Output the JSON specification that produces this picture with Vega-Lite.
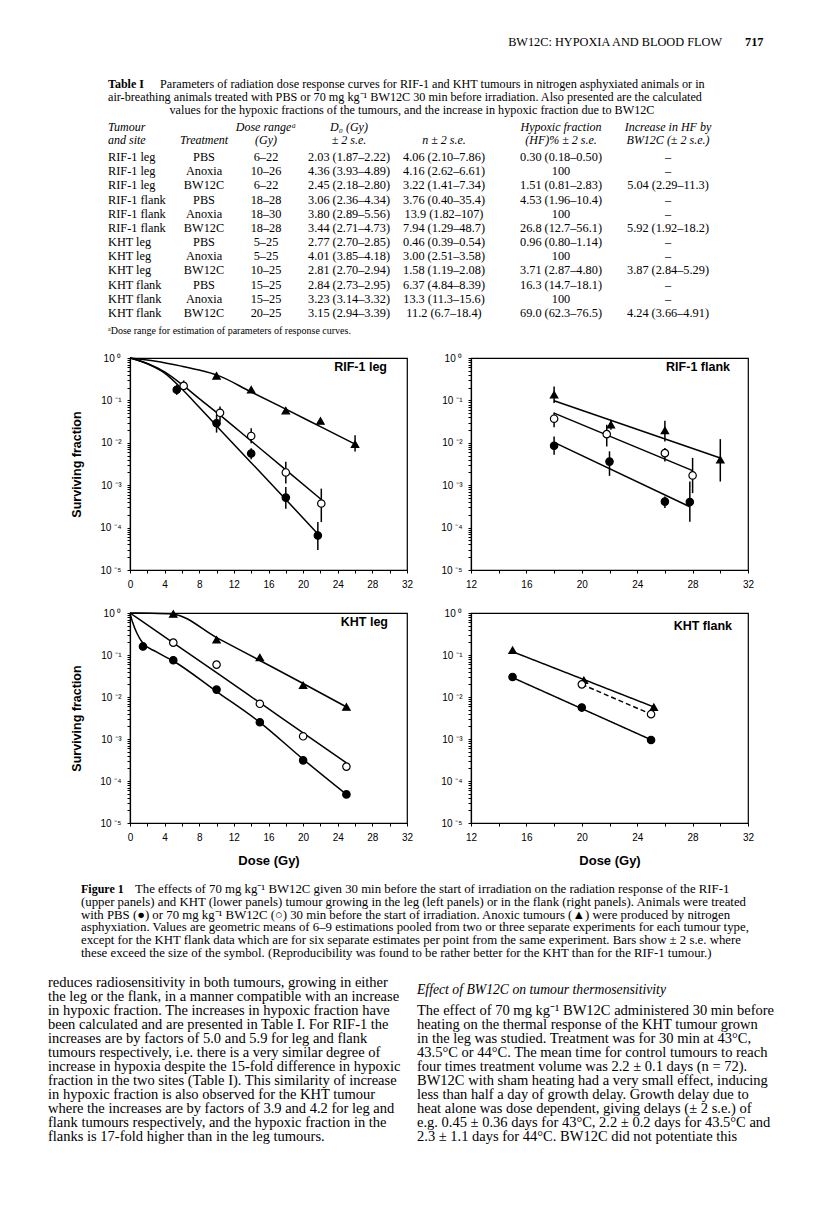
{
  "$schema": "https://vega.github.io/schema/vega-lite/v6.json",
  "padding": 0,
  "background": "white",
  "columns": 3,
  "spacing": {"row": 43, "column": 64},
  "bounds": "flush",
  "config": {
    "view": {"stroke": null},
    "axis": {"grid": false, "domainColor": "black", "domainWidth": 1.2, "tickColor": "black", "tickWidth": 1, "tickSize": 3, "labelColor": "black", "labelFont": "Liberation Sans", "labelFontSize": 10, "labelFlush": false, "labelOverlap": false, "labelBound": false, "titleColor": "black", "titleFont": "Liberation Sans", "titleFontWeight": "bold", "titleFontSize": 12.5},
    "axisX": {"labelPadding": 6, "titlePadding": 12},
    "axisY": {"labelPadding": 6, "titlePadding": 16},
    "title": {"anchor": "end", "frame": "group", "orient": "top", "offset": 0, "baseline": "middle", "dy": 24, "font": "Liberation Sans", "fontSize": 12.5, "fontWeight": "bold", "color": "black"}
  },
  "datasets": {
    "points": [
      {"panel": "RIF-1 leg", "group": "Anoxia", "dose": 10, "sf": 0.38},
      {"panel": "RIF-1 leg", "group": "Anoxia", "dose": 14, "sf": 0.178},
      {"panel": "RIF-1 leg", "group": "Anoxia", "dose": 18, "sf": 0.0575},
      {"panel": "RIF-1 leg", "group": "Anoxia", "dose": 22, "sf": 0.0327},
      {"panel": "RIF-1 leg", "group": "Anoxia", "dose": 26, "sf": 0.0093, "lo": 0.0062, "hi": 0.015},
      {"panel": "RIF-1 leg", "group": "PBS", "dose": 5.4, "sf": 0.178, "lo": 0.135, "hi": 0.234},
      {"panel": "RIF-1 leg", "group": "PBS", "dose": 10, "sf": 0.029, "lo": 0.0174, "hi": 0.0457},
      {"panel": "RIF-1 leg", "group": "PBS", "dose": 14, "sf": 0.0056, "lo": 0.0041, "hi": 0.0074},
      {"panel": "RIF-1 leg", "group": "PBS", "dose": 18, "sf": 0.00051, "lo": 0.00028, "hi": 0.00091},
      {"panel": "RIF-1 leg", "group": "PBS", "dose": 21.7, "sf": 0.000065, "lo": 0.0000296, "hi": 0.000135},
      {"panel": "RIF-1 leg", "group": "BW12C", "dose": 6.2, "sf": 0.22, "lo": 0.178, "hi": 0.295},
      {"panel": "RIF-1 leg", "group": "BW12C", "dose": 10.4, "sf": 0.051, "lo": 0.0316, "hi": 0.0716},
      {"panel": "RIF-1 leg", "group": "BW12C", "dose": 14, "sf": 0.0145, "lo": 0.0097, "hi": 0.0219},
      {"panel": "RIF-1 leg", "group": "BW12C", "dose": 18, "sf": 0.002, "lo": 0.0011, "hi": 0.00355},
      {"panel": "RIF-1 leg", "group": "BW12C", "dose": 22.1, "sf": 0.00037, "lo": 0.000135, "hi": 0.00083},
      {"panel": "RIF-1 flank", "group": "Anoxia", "dose": 18, "sf": 0.136, "lo": 0.087, "hi": 0.214},
      {"panel": "RIF-1 flank", "group": "Anoxia", "dose": 22.1, "sf": 0.0266, "lo": 0.0203, "hi": 0.035},
      {"panel": "RIF-1 flank", "group": "Anoxia", "dose": 26, "sf": 0.0195, "lo": 0.0108, "hi": 0.033},
      {"panel": "RIF-1 flank", "group": "Anoxia", "dose": 30, "sf": 0.004, "lo": 0.00122, "hi": 0.0122},
      {"panel": "RIF-1 flank", "group": "BW12C", "dose": 18, "sf": 0.037, "lo": 0.0234, "hi": 0.052},
      {"panel": "RIF-1 flank", "group": "BW12C", "dose": 21.8, "sf": 0.016, "lo": 0.0082, "hi": 0.0266},
      {"panel": "RIF-1 flank", "group": "BW12C", "dose": 26, "sf": 0.0057, "lo": 0.0036, "hi": 0.0075},
      {"panel": "RIF-1 flank", "group": "BW12C", "dose": 28, "sf": 0.0017, "lo": 0.00065, "hi": 0.0044},
      {"panel": "RIF-1 flank", "group": "PBS", "dose": 18, "sf": 0.0085, "lo": 0.0052, "hi": 0.0141},
      {"panel": "RIF-1 flank", "group": "PBS", "dose": 22, "sf": 0.0036, "lo": 0.00166, "hi": 0.0063},
      {"panel": "RIF-1 flank", "group": "PBS", "dose": 26, "sf": 0.00041, "lo": 0.00029, "hi": 0.00054},
      {"panel": "RIF-1 flank", "group": "PBS", "dose": 27.8, "sf": 0.0004, "lo": 0.000138, "hi": 0.00122},
      {"panel": "KHT leg", "group": "Anoxia", "dose": 5, "sf": 0.95},
      {"panel": "KHT leg", "group": "Anoxia", "dose": 10, "sf": 0.23},
      {"panel": "KHT leg", "group": "Anoxia", "dose": 15, "sf": 0.087},
      {"panel": "KHT leg", "group": "Anoxia", "dose": 20, "sf": 0.019},
      {"panel": "KHT leg", "group": "Anoxia", "dose": 25, "sf": 0.0058},
      {"panel": "KHT leg", "group": "BW12C", "dose": 5, "sf": 0.197},
      {"panel": "KHT leg", "group": "BW12C", "dose": 10, "sf": 0.059},
      {"panel": "KHT leg", "group": "BW12C", "dose": 15, "sf": 0.0069},
      {"panel": "KHT leg", "group": "BW12C", "dose": 20, "sf": 0.00116},
      {"panel": "KHT leg", "group": "BW12C", "dose": 25, "sf": 0.00022},
      {"panel": "KHT leg", "group": "PBS", "dose": 1.5, "sf": 0.16},
      {"panel": "KHT leg", "group": "PBS", "dose": 5, "sf": 0.075},
      {"panel": "KHT leg", "group": "PBS", "dose": 10, "sf": 0.015},
      {"panel": "KHT leg", "group": "PBS", "dose": 15, "sf": 0.0025},
      {"panel": "KHT leg", "group": "PBS", "dose": 20, "sf": 0.00031},
      {"panel": "KHT leg", "group": "PBS", "dose": 25, "sf": 0.000048},
      {"panel": "KHT flank", "group": "Anoxia", "dose": 15, "sf": 0.13},
      {"panel": "KHT flank", "group": "Anoxia", "dose": 20.15, "sf": 0.025},
      {"panel": "KHT flank", "group": "Anoxia", "dose": 25.2, "sf": 0.0057},
      {"panel": "KHT flank", "group": "BW12C", "dose": 20, "sf": 0.02},
      {"panel": "KHT flank", "group": "BW12C", "dose": 25, "sf": 0.0039},
      {"panel": "KHT flank", "group": "PBS", "dose": 15, "sf": 0.03},
      {"panel": "KHT flank", "group": "PBS", "dose": 20, "sf": 0.0056},
      {"panel": "KHT flank", "group": "PBS", "dose": 25, "sf": 0.00095}
    ],
    "curves": [
      {"panel": "RIF-1 leg", "group": "Anoxia", "dose": 0, "sf": 1},
      {"panel": "RIF-1 leg", "group": "Anoxia", "dose": 3, "sf": 0.84},
      {"panel": "RIF-1 leg", "group": "Anoxia", "dose": 6, "sf": 0.64},
      {"panel": "RIF-1 leg", "group": "Anoxia", "dose": 8, "sf": 0.52},
      {"panel": "RIF-1 leg", "group": "Anoxia", "dose": 10, "sf": 0.4},
      {"panel": "RIF-1 leg", "group": "Anoxia", "dose": 14, "sf": 0.158},
      {"panel": "RIF-1 leg", "group": "Anoxia", "dose": 18, "sf": 0.062},
      {"panel": "RIF-1 leg", "group": "Anoxia", "dose": 22, "sf": 0.024},
      {"panel": "RIF-1 leg", "group": "Anoxia", "dose": 26, "sf": 0.0093},
      {"panel": "RIF-1 leg", "group": "PBS", "dose": 0, "sf": 1},
      {"panel": "RIF-1 leg", "group": "PBS", "dose": 2, "sf": 0.73},
      {"panel": "RIF-1 leg", "group": "PBS", "dose": 4, "sf": 0.44},
      {"panel": "RIF-1 leg", "group": "PBS", "dose": 6, "sf": 0.186},
      {"panel": "RIF-1 leg", "group": "PBS", "dose": 8, "sf": 0.069},
      {"panel": "RIF-1 leg", "group": "PBS", "dose": 10, "sf": 0.025},
      {"panel": "RIF-1 leg", "group": "PBS", "dose": 14, "sf": 0.0034},
      {"panel": "RIF-1 leg", "group": "PBS", "dose": 18, "sf": 0.00046},
      {"panel": "RIF-1 leg", "group": "PBS", "dose": 21.7, "sf": 0.000071},
      {"panel": "RIF-1 leg", "group": "BW12C", "dose": 0, "sf": 1},
      {"panel": "RIF-1 leg", "group": "BW12C", "dose": 2, "sf": 0.74},
      {"panel": "RIF-1 leg", "group": "BW12C", "dose": 4, "sf": 0.47},
      {"panel": "RIF-1 leg", "group": "BW12C", "dose": 6.2, "sf": 0.22},
      {"panel": "RIF-1 leg", "group": "BW12C", "dose": 8, "sf": 0.11},
      {"panel": "RIF-1 leg", "group": "BW12C", "dose": 10.4, "sf": 0.045},
      {"panel": "RIF-1 leg", "group": "BW12C", "dose": 14, "sf": 0.011},
      {"panel": "RIF-1 leg", "group": "BW12C", "dose": 18, "sf": 0.0023},
      {"panel": "RIF-1 leg", "group": "BW12C", "dose": 22.1, "sf": 0.00046},
      {"panel": "RIF-1 flank", "group": "Anoxia", "dose": 18, "sf": 0.098},
      {"panel": "RIF-1 flank", "group": "Anoxia", "dose": 30, "sf": 0.0044},
      {"panel": "RIF-1 flank", "group": "BW12C", "dose": 18, "sf": 0.05},
      {"panel": "RIF-1 flank", "group": "BW12C", "dose": 28, "sf": 0.0022},
      {"panel": "RIF-1 flank", "group": "PBS", "dose": 18, "sf": 0.0102},
      {"panel": "RIF-1 flank", "group": "PBS", "dose": 27.8, "sf": 0.00031},
      {"panel": "KHT leg", "group": "Anoxia", "dose": 0, "sf": 1},
      {"panel": "KHT leg", "group": "Anoxia", "dose": 2.5, "sf": 0.99},
      {"panel": "KHT leg", "group": "Anoxia", "dose": 5, "sf": 0.94},
      {"panel": "KHT leg", "group": "Anoxia", "dose": 10, "sf": 0.26},
      {"panel": "KHT leg", "group": "Anoxia", "dose": 15, "sf": 0.074},
      {"panel": "KHT leg", "group": "Anoxia", "dose": 20, "sf": 0.021},
      {"panel": "KHT leg", "group": "Anoxia", "dose": 25, "sf": 0.0058},
      {"panel": "KHT leg", "group": "BW12C", "dose": 0, "sf": 1},
      {"panel": "KHT leg", "group": "BW12C", "dose": 5, "sf": 0.195},
      {"panel": "KHT leg", "group": "BW12C", "dose": 10, "sf": 0.038},
      {"panel": "KHT leg", "group": "BW12C", "dose": 15, "sf": 0.0073},
      {"panel": "KHT leg", "group": "BW12C", "dose": 20, "sf": 0.0014},
      {"panel": "KHT leg", "group": "BW12C", "dose": 25, "sf": 0.00027},
      {"panel": "KHT leg", "group": "PBS", "dose": 0, "sf": 1},
      {"panel": "KHT leg", "group": "PBS", "dose": 0.3, "sf": 0.6},
      {"panel": "KHT leg", "group": "PBS", "dose": 0.8, "sf": 0.33},
      {"panel": "KHT leg", "group": "PBS", "dose": 1.5, "sf": 0.19},
      {"panel": "KHT leg", "group": "PBS", "dose": 3, "sf": 0.12},
      {"panel": "KHT leg", "group": "PBS", "dose": 5, "sf": 0.072},
      {"panel": "KHT leg", "group": "PBS", "dose": 10, "sf": 0.0135},
      {"panel": "KHT leg", "group": "PBS", "dose": 15, "sf": 0.0025},
      {"panel": "KHT leg", "group": "PBS", "dose": 20, "sf": 0.00033},
      {"panel": "KHT leg", "group": "PBS", "dose": 25, "sf": 0.000048},
      {"panel": "KHT flank", "group": "Anoxia", "dose": 15, "sf": 0.12},
      {"panel": "KHT flank", "group": "Anoxia", "dose": 25.2, "sf": 0.0058},
      {"panel": "KHT flank", "group": "BW12C", "dose": 20, "sf": 0.02},
      {"panel": "KHT flank", "group": "BW12C", "dose": 25, "sf": 0.0039},
      {"panel": "KHT flank", "group": "PBS", "dose": 15, "sf": 0.029},
      {"panel": "KHT flank", "group": "PBS", "dose": 25, "sf": 0.00096}
    ],
    "tableText": [
      {"k": "runhead", "line": 0, "col": 7, "text": "BW12C: HYPOXIA AND BLOOD FLOW"},
      {"k": "runhead", "line": 0, "col": 8, "text": "717"},
      {"k": "label", "line": 1, "col": 0, "text": "Table I"},
      {"k": "caption", "line": 1, "col": 10, "text": "Parameters of radiation dose response curves for RIF-1 and KHT tumours in nitrogen asphyxiated animals or in"},
      {"k": "caption", "line": 2, "col": 0, "text": "air-breathing animals treated with PBS or 70 mg kg⁻¹ BW12C 30 min before irradiation. Also presented are the calculated"},
      {"k": "captionc", "line": 3, "col": 9, "text": "values for the hypoxic fractions of the tumours, and the increase in hypoxic fraction due to BW12C"},
      {"k": "rule", "line": 4},
      {"k": "rule", "line": 7},
      {"k": "rule", "line": 20},
      {"k": "head", "line": 5, "col": 0, "text": "Tumour"},
      {"k": "head", "line": 5, "col": 2, "text": "Dose rangeᵃ"},
      {"k": "head", "line": 5, "col": 3, "text": "D₀ (Gy)"},
      {"k": "head", "line": 5, "col": 5, "text": "Hypoxic fraction"},
      {"k": "head", "line": 5, "col": 6, "text": "Increase in HF by"},
      {"k": "head", "line": 6, "col": 0, "text": "and site"},
      {"k": "head", "line": 6, "col": 1, "text": "Treatment"},
      {"k": "head", "line": 6, "col": 2, "text": "(Gy)"},
      {"k": "head", "line": 6, "col": 3, "text": "± 2 s.e."},
      {"k": "head", "line": 6, "col": 4, "text": "n ± 2 s.e."},
      {"k": "head", "line": 6, "col": 5, "text": "(HF)% ± 2 s.e."},
      {"k": "head", "line": 6, "col": 6, "text": "BW12C (± 2 s.e.)"},
      {"k": "cell", "line": 8, "col": 0, "text": "RIF-1 leg"}, {"k": "cell", "line": 8, "col": 1, "text": "PBS"}, {"k": "cell", "line": 8, "col": 2, "text": "6–22"}, {"k": "cell", "line": 8, "col": 3, "text": "2.03 (1.87–2.22)"}, {"k": "cell", "line": 8, "col": 4, "text": "4.06 (2.10–7.86)"}, {"k": "cell", "line": 8, "col": 5, "text": "0.30 (0.18–0.50)"}, {"k": "cell", "line": 8, "col": 6, "text": "–"},
      {"k": "cell", "line": 9, "col": 0, "text": "RIF-1 leg"}, {"k": "cell", "line": 9, "col": 1, "text": "Anoxia"}, {"k": "cell", "line": 9, "col": 2, "text": "10–26"}, {"k": "cell", "line": 9, "col": 3, "text": "4.36 (3.93–4.89)"}, {"k": "cell", "line": 9, "col": 4, "text": "4.16 (2.62–6.61)"}, {"k": "cell", "line": 9, "col": 5, "text": "100"}, {"k": "cell", "line": 9, "col": 6, "text": "–"},
      {"k": "cell", "line": 10, "col": 0, "text": "RIF-1 leg"}, {"k": "cell", "line": 10, "col": 1, "text": "BW12C"}, {"k": "cell", "line": 10, "col": 2, "text": "6–22"}, {"k": "cell", "line": 10, "col": 3, "text": "2.45 (2.18–2.80)"}, {"k": "cell", "line": 10, "col": 4, "text": "3.22 (1.41–7.34)"}, {"k": "cell", "line": 10, "col": 5, "text": "1.51 (0.81–2.83)"}, {"k": "cell", "line": 10, "col": 6, "text": "5.04 (2.29–11.3)"},
      {"k": "cell", "line": 11, "col": 0, "text": "RIF-1 flank"}, {"k": "cell", "line": 11, "col": 1, "text": "PBS"}, {"k": "cell", "line": 11, "col": 2, "text": "18–28"}, {"k": "cell", "line": 11, "col": 3, "text": "3.06 (2.36–4.34)"}, {"k": "cell", "line": 11, "col": 4, "text": "3.76 (0.40–35.4)"}, {"k": "cell", "line": 11, "col": 5, "text": "4.53 (1.96–10.4)"}, {"k": "cell", "line": 11, "col": 6, "text": "–"},
      {"k": "cell", "line": 12, "col": 0, "text": "RIF-1 flank"}, {"k": "cell", "line": 12, "col": 1, "text": "Anoxia"}, {"k": "cell", "line": 12, "col": 2, "text": "18–30"}, {"k": "cell", "line": 12, "col": 3, "text": "3.80 (2.89–5.56)"}, {"k": "cell", "line": 12, "col": 4, "text": "13.9 (1.82–107)"}, {"k": "cell", "line": 12, "col": 5, "text": "100"}, {"k": "cell", "line": 12, "col": 6, "text": "–"},
      {"k": "cell", "line": 13, "col": 0, "text": "RIF-1 flank"}, {"k": "cell", "line": 13, "col": 1, "text": "BW12C"}, {"k": "cell", "line": 13, "col": 2, "text": "18–28"}, {"k": "cell", "line": 13, "col": 3, "text": "3.44 (2.71–4.73)"}, {"k": "cell", "line": 13, "col": 4, "text": "7.94 (1.29–48.7)"}, {"k": "cell", "line": 13, "col": 5, "text": "26.8 (12.7–56.1)"}, {"k": "cell", "line": 13, "col": 6, "text": "5.92 (1.92–18.2)"},
      {"k": "cell", "line": 14, "col": 0, "text": "KHT leg"}, {"k": "cell", "line": 14, "col": 1, "text": "PBS"}, {"k": "cell", "line": 14, "col": 2, "text": "5–25"}, {"k": "cell", "line": 14, "col": 3, "text": "2.77 (2.70–2.85)"}, {"k": "cell", "line": 14, "col": 4, "text": "0.46 (0.39–0.54)"}, {"k": "cell", "line": 14, "col": 5, "text": "0.96 (0.80–1.14)"}, {"k": "cell", "line": 14, "col": 6, "text": "–"},
      {"k": "cell", "line": 15, "col": 0, "text": "KHT leg"}, {"k": "cell", "line": 15, "col": 1, "text": "Anoxia"}, {"k": "cell", "line": 15, "col": 2, "text": "5–25"}, {"k": "cell", "line": 15, "col": 3, "text": "4.01 (3.85–4.18)"}, {"k": "cell", "line": 15, "col": 4, "text": "3.00 (2.51–3.58)"}, {"k": "cell", "line": 15, "col": 5, "text": "100"}, {"k": "cell", "line": 15, "col": 6, "text": "–"},
      {"k": "cell", "line": 16, "col": 0, "text": "KHT leg"}, {"k": "cell", "line": 16, "col": 1, "text": "BW12C"}, {"k": "cell", "line": 16, "col": 2, "text": "10–25"}, {"k": "cell", "line": 16, "col": 3, "text": "2.81 (2.70–2.94)"}, {"k": "cell", "line": 16, "col": 4, "text": "1.58 (1.19–2.08)"}, {"k": "cell", "line": 16, "col": 5, "text": "3.71 (2.87–4.80)"}, {"k": "cell", "line": 16, "col": 6, "text": "3.87 (2.84–5.29)"},
      {"k": "cell", "line": 17, "col": 0, "text": "KHT flank"}, {"k": "cell", "line": 17, "col": 1, "text": "PBS"}, {"k": "cell", "line": 17, "col": 2, "text": "15–25"}, {"k": "cell", "line": 17, "col": 3, "text": "2.84 (2.73–2.95)"}, {"k": "cell", "line": 17, "col": 4, "text": "6.37 (4.84–8.39)"}, {"k": "cell", "line": 17, "col": 5, "text": "16.3 (14.7–18.1)"}, {"k": "cell", "line": 17, "col": 6, "text": "–"},
      {"k": "cell", "line": 18, "col": 0, "text": "KHT flank"}, {"k": "cell", "line": 18, "col": 1, "text": "Anoxia"}, {"k": "cell", "line": 18, "col": 2, "text": "15–25"}, {"k": "cell", "line": 18, "col": 3, "text": "3.23 (3.14–3.32)"}, {"k": "cell", "line": 18, "col": 4, "text": "13.3 (11.3–15.6)"}, {"k": "cell", "line": 18, "col": 5, "text": "100"}, {"k": "cell", "line": 18, "col": 6, "text": "–"},
      {"k": "cell", "line": 19, "col": 0, "text": "KHT flank"}, {"k": "cell", "line": 19, "col": 1, "text": "BW12C"}, {"k": "cell", "line": 19, "col": 2, "text": "20–25"}, {"k": "cell", "line": 19, "col": 3, "text": "3.15 (2.94–3.39)"}, {"k": "cell", "line": 19, "col": 4, "text": "11.2  (6.7–18.4)"}, {"k": "cell", "line": 19, "col": 5, "text": "69.0 (62.3–76.5)"}, {"k": "cell", "line": 19, "col": 6, "text": "4.24 (3.66–4.91)"},
      {"k": "foot", "line": 21, "col": 0, "text": "ᵃDose range for estimation of parameters of response curves."}
    ],
    "pageText": [
      {"k": "figlabel", "line": 0, "col": 0, "text": "Figure 1"},
      {"k": "caption", "line": 0, "col": 1, "text": "The effects of 70 mg kg⁻¹ BW12C given 30 min before the start of irradiation on the radiation response of the RIF-1"},
      {"k": "caption", "line": 1, "col": 0, "text": "(upper panels) and KHT (lower panels) tumour growing in the leg (left panels) or in the flank (right panels). Animals were treated"},
      {"k": "caption", "line": 2, "col": 0, "text": "with PBS (●) or 70 mg kg⁻¹ BW12C (○) 30 min before the start of irradiation. Anoxic tumours (▲) were produced by nitrogen"},
      {"k": "caption", "line": 3, "col": 0, "text": "asphyxiation. Values are geometric means of 6–9 estimations pooled from two or three separate experiments for each tumour type,"},
      {"k": "caption", "line": 4, "col": 0, "text": "except for the KHT flank data which are for six separate estimates per point from the same experiment. Bars show ± 2 s.e. where"},
      {"k": "caption", "line": 5, "col": 0, "text": "these exceed the size of the symbol. (Reproducibility was found to be rather better for the KHT than for the RIF-1 tumour.)"},
      {"k": "body", "line": 10, "col": 2, "text": "reduces radiosensitivity in both tumours, growing in either"},
      {"k": "body", "line": 11, "col": 2, "text": "the leg or the flank, in a manner compatible with an increase"},
      {"k": "body", "line": 12, "col": 2, "text": "in hypoxic fraction. The increases in hypoxic fraction have"},
      {"k": "body", "line": 13, "col": 2, "text": "been calculated and are presented in Table I. For RIF-1 the"},
      {"k": "body", "line": 14, "col": 2, "text": "increases are by factors of 5.0 and 5.9 for leg and flank"},
      {"k": "body", "line": 15, "col": 2, "text": "tumours respectively, i.e. there is a very similar degree of"},
      {"k": "body", "line": 16, "col": 2, "text": "increase in hypoxia despite the 15-fold difference in hypoxic"},
      {"k": "body", "line": 17, "col": 2, "text": "fraction in the two sites (Table I). This similarity of increase"},
      {"k": "body", "line": 18, "col": 2, "text": "in hypoxic fraction is also observed for the KHT tumour"},
      {"k": "body", "line": 19, "col": 2, "text": "where the increases are by factors of 3.9 and 4.2 for leg and"},
      {"k": "body", "line": 20, "col": 2, "text": "flank tumours respectively, and the hypoxic fraction in the"},
      {"k": "body", "line": 21, "col": 2, "text": "flanks is 17-fold higher than in the leg tumours."},
      {"k": "heading", "line": 30, "col": 3, "text": "Effect of BW12C on tumour thermosensitivity"},
      {"k": "body", "line": 31, "col": 3, "text": "The effect of 70 mg kg⁻¹ BW12C administered 30 min before"},
      {"k": "body", "line": 32, "col": 3, "text": "heating on the thermal response of the KHT tumour grown"},
      {"k": "body", "line": 33, "col": 3, "text": "in the leg was studied. Treatment was for 30 min at 43°C,"},
      {"k": "body", "line": 34, "col": 3, "text": "43.5°C or 44°C. The mean time for control tumours to reach"},
      {"k": "body", "line": 35, "col": 3, "text": "four times treatment volume was 2.2 ± 0.1 days (n = 72)."},
      {"k": "body", "line": 36, "col": 3, "text": "BW12C with sham heating had a very small effect, inducing"},
      {"k": "body", "line": 37, "col": 3, "text": "less than half a day of growth delay. Growth delay due to"},
      {"k": "body", "line": 38, "col": 3, "text": "heat alone was dose dependent, giving delays (± 2 s.e.) of"},
      {"k": "body", "line": 39, "col": 3, "text": "e.g. 0.45 ± 0.36 days for 43°C, 2.2 ± 0.2 days for 43.5°C and"},
      {"k": "body", "line": 40, "col": 3, "text": "2.3 ± 1.1 days for 44°C. BW12C did not potentiate this"}
    ]
  },
  "concat": [
    {
      "width": 66,
      "height": 315,
      "data": {"name": "tableText"},
      "encoding": {
        "x": {"field": "col", "type": "quantitative", "axis": null, "scale": {"domain": [0, 1, 2, 3, 4, 5, 6, 7, 8, 9, 10, 11], "range": [108, 204, 266, 349, 444, 561, 668, 722, 745, 412, 160, 712], "zero": false, "nice": false}},
        "y": {"field": "line", "type": "quantitative", "axis": null, "scale": {"domain": [0, 1, 3, 4, 5, 6, 7, 8, 19, 20, 21], "range": [42, 84, 110, 118, 127, 140, 147, 157, 313, 320, 331], "zero": false, "nice": false}}
      },
      "layer": [
        {"transform": [{"filter": "datum.k === 'runhead' && datum.col === 7"}], "mark": {"type": "text", "align": "right", "baseline": "middle", "font": "Liberation Serif", "fontSize": 12.3, "color": "black"}, "encoding": {"text": {"field": "text"}}},
        {"transform": [{"filter": "datum.k === 'runhead' && datum.col === 8"}], "mark": {"type": "text", "align": "left", "baseline": "middle", "font": "Liberation Serif", "fontSize": 12.3, "fontWeight": "bold", "color": "black"}, "encoding": {"text": {"field": "text"}}},
        {"transform": [{"filter": "datum.k === 'label'"}], "mark": {"type": "text", "align": "left", "baseline": "middle", "font": "Liberation Serif", "fontSize": 12, "fontWeight": "bold", "color": "black"}, "encoding": {"text": {"field": "text"}}},
        {"transform": [{"filter": "datum.k === 'caption'"}], "mark": {"type": "text", "align": "left", "baseline": "middle", "font": "Liberation Serif", "fontSize": 12.2, "color": "black"}, "encoding": {"text": {"field": "text"}}},
        {"transform": [{"filter": "datum.k === 'captionc'"}], "mark": {"type": "text", "align": "center", "baseline": "middle", "font": "Liberation Serif", "fontSize": 12.2, "color": "black"}, "encoding": {"text": {"field": "text"}}},
        {"transform": [{"filter": "datum.k === 'head' && datum.col === 0"}], "mark": {"type": "text", "align": "left", "baseline": "middle", "font": "Liberation Serif", "fontSize": 12, "fontStyle": "italic", "color": "black"}, "encoding": {"text": {"field": "text"}}},
        {"transform": [{"filter": "datum.k === 'head' && datum.col > 0"}], "mark": {"type": "text", "align": "center", "baseline": "middle", "font": "Liberation Serif", "fontSize": 12, "fontStyle": "italic", "color": "black"}, "encoding": {"text": {"field": "text"}}},
        {"transform": [{"filter": "datum.k === 'cell' && datum.col === 0"}], "mark": {"type": "text", "align": "left", "baseline": "middle", "font": "Liberation Serif", "fontSize": 12.3, "color": "black"}, "encoding": {"text": {"field": "text"}}},
        {"transform": [{"filter": "datum.k === 'cell' && datum.col > 0"}], "mark": {"type": "text", "align": "center", "baseline": "middle", "font": "Liberation Serif", "fontSize": 12.3, "color": "black"}, "encoding": {"text": {"field": "text"}}},
        {"transform": [{"filter": "datum.k === 'foot'"}], "mark": {"type": "text", "align": "left", "baseline": "middle", "font": "Liberation Serif", "fontSize": 10, "color": "black"}, "encoding": {"text": {"field": "text"}}},
        {"transform": [{"filter": "datum.k === 'rule'"}], "mark": {"type": "rule", "color": "black", "strokeWidth": 1}, "encoding": {"x": {"datum": 0}, "x2": {"datum": 11}}}
      ]
    },
    {"width": 277, "height": 315, "data": {"values": []}, "mark": "point"},
    {"width": 277, "height": 315, "data": {"values": []}, "mark": "point"},
    {"width": 66, "height": 212, "data": {"values": []}, "mark": "point"},
    {
      "width": 277, "height": 212,
      "title": {"text": "RIF-1 leg", "dx": -20},
      "view": {"stroke": "black", "strokeWidth": 1.2},
      "encoding": {
        "x": {"field": "dose", "type": "quantitative", "scale": {"domain": [0, 32], "nice": false, "zero": false}, "axis": {"title": null, "values": [0, 2, 4, 6, 8, 10, 12, 14, 16, 18, 20, 22, 24, 26, 28, 30, 32], "labelExpr": "datum.value % 4 === 0 ? datum.label : ''"}},
        "y": {"field": "sf", "type": "quantitative", "scale": {"type": "log", "domain": [0.00001, 1], "nice": false}, "axis": {"title": "Surviving fraction", "values": [0.00001, 0.00002, 0.00003, 0.00004, 0.00005, 0.00006, 0.00007, 0.00008, 0.00009, 0.0001, 0.0002, 0.0003, 0.0004, 0.0005, 0.0006, 0.0007, 0.0008, 0.0009, 0.001, 0.002, 0.003, 0.004, 0.005, 0.006, 0.007, 0.008, 0.009, 0.01, 0.02, 0.03, 0.04, 0.05, 0.06, 0.07, 0.08, 0.09, 0.1, 0.2, 0.3, 0.4, 0.5, 0.6, 0.7, 0.8, 0.9, 1], "labelExpr": "abs(log(datum.value)/LN10 - round(log(datum.value)/LN10)) < 0.01 ? '10 ' + ['⁰','⁻¹','⁻²','⁻³','⁻⁴','⁻⁵'][round(-log(datum.value)/LN10)] : ''"}}
      },
      "layer": [
        {"data": {"name": "curves"}, "transform": [{"filter": "datum.panel === 'RIF-1 leg'"}], "mark": {"type": "line", "color": "black", "strokeWidth": 1.5, "interpolate": "monotone"}, "encoding": {"detail": {"field": "group", "type": "nominal"}}},
        {"data": {"name": "points"}, "transform": [{"filter": "datum.panel === 'RIF-1 leg' && isValid(datum.lo)"}], "mark": {"type": "rule", "color": "black", "strokeWidth": 1.5}, "encoding": {"y": {"field": "lo", "type": "quantitative", "title": "Surviving fraction"}, "y2": {"field": "hi"}}},
        {"data": {"name": "points"}, "transform": [{"filter": "datum.panel === 'RIF-1 leg'"}], "mark": {"type": "point", "filled": true, "opacity": 1, "stroke": "black", "strokeWidth": 1.2}, "encoding": {"shape": {"field": "group", "type": "nominal", "scale": {"domain": ["PBS", "BW12C", "Anoxia"], "range": ["circle", "circle", "triangle-up"]}, "legend": null}, "fill": {"field": "group", "type": "nominal", "scale": {"domain": ["PBS", "BW12C", "Anoxia"], "range": ["black", "white", "black"]}, "legend": null}, "size": {"field": "group", "type": "nominal", "scale": {"domain": ["PBS", "BW12C", "Anoxia"], "range": [55, 55, 70]}, "legend": null}}}
      ]
    },
    {
      "width": 277, "height": 212,
      "title": {"text": "RIF-1 flank", "dx": -18},
      "view": {"stroke": "black", "strokeWidth": 1.2},
      "encoding": {
        "x": {"field": "dose", "type": "quantitative", "scale": {"domain": [12, 32], "nice": false, "zero": false}, "axis": {"title": null, "values": [12, 14, 16, 18, 20, 22, 24, 26, 28, 30, 32], "labelExpr": "datum.value % 4 === 0 ? datum.label : ''"}},
        "y": {"field": "sf", "type": "quantitative", "scale": {"type": "log", "domain": [0.00001, 1], "nice": false}, "axis": {"title": null, "values": [0.00001, 0.00002, 0.00003, 0.00004, 0.00005, 0.00006, 0.00007, 0.00008, 0.00009, 0.0001, 0.0002, 0.0003, 0.0004, 0.0005, 0.0006, 0.0007, 0.0008, 0.0009, 0.001, 0.002, 0.003, 0.004, 0.005, 0.006, 0.007, 0.008, 0.009, 0.01, 0.02, 0.03, 0.04, 0.05, 0.06, 0.07, 0.08, 0.09, 0.1, 0.2, 0.3, 0.4, 0.5, 0.6, 0.7, 0.8, 0.9, 1], "labelExpr": "abs(log(datum.value)/LN10 - round(log(datum.value)/LN10)) < 0.01 ? '10 ' + ['⁰','⁻¹','⁻²','⁻³','⁻⁴','⁻⁵'][round(-log(datum.value)/LN10)] : ''"}}
      },
      "layer": [
        {"data": {"name": "curves"}, "transform": [{"filter": "datum.panel === 'RIF-1 flank'"}], "mark": {"type": "line", "color": "black", "strokeWidth": 1.5}, "encoding": {"detail": {"field": "group", "type": "nominal"}}},
        {"data": {"name": "points"}, "transform": [{"filter": "datum.panel === 'RIF-1 flank' && isValid(datum.lo)"}], "mark": {"type": "rule", "color": "black", "strokeWidth": 1.5}, "encoding": {"y": {"field": "lo", "type": "quantitative", "title": null}, "y2": {"field": "hi"}}},
        {"data": {"name": "points"}, "transform": [{"filter": "datum.panel === 'RIF-1 flank'"}], "mark": {"type": "point", "filled": true, "opacity": 1, "stroke": "black", "strokeWidth": 1.2}, "encoding": {"shape": {"field": "group", "type": "nominal", "scale": {"domain": ["PBS", "BW12C", "Anoxia"], "range": ["circle", "circle", "triangle-up"]}, "legend": null}, "fill": {"field": "group", "type": "nominal", "scale": {"domain": ["PBS", "BW12C", "Anoxia"], "range": ["black", "white", "black"]}, "legend": null}, "size": {"field": "group", "type": "nominal", "scale": {"domain": ["PBS", "BW12C", "Anoxia"], "range": [55, 55, 70]}, "legend": null}}}
      ]
    },
    {"width": 66, "height": 210, "data": {"values": []}, "mark": "point"},
    {
      "width": 277, "height": 210,
      "title": {"text": "KHT leg", "dx": -19},
      "view": {"stroke": "black", "strokeWidth": 1.2},
      "encoding": {
        "x": {"field": "dose", "type": "quantitative", "scale": {"domain": [0, 32], "nice": false, "zero": false}, "axis": {"title": "Dose (Gy)", "titleFontSize": 13, "values": [0, 2, 4, 6, 8, 10, 12, 14, 16, 18, 20, 22, 24, 26, 28, 30, 32], "labelExpr": "datum.value % 4 === 0 ? datum.label : ''"}},
        "y": {"field": "sf", "type": "quantitative", "scale": {"type": "log", "domain": [0.00001, 1], "nice": false}, "axis": {"title": "Surviving fraction", "values": [0.00001, 0.00002, 0.00003, 0.00004, 0.00005, 0.00006, 0.00007, 0.00008, 0.00009, 0.0001, 0.0002, 0.0003, 0.0004, 0.0005, 0.0006, 0.0007, 0.0008, 0.0009, 0.001, 0.002, 0.003, 0.004, 0.005, 0.006, 0.007, 0.008, 0.009, 0.01, 0.02, 0.03, 0.04, 0.05, 0.06, 0.07, 0.08, 0.09, 0.1, 0.2, 0.3, 0.4, 0.5, 0.6, 0.7, 0.8, 0.9, 1], "labelExpr": "abs(log(datum.value)/LN10 - round(log(datum.value)/LN10)) < 0.01 ? '10 ' + ['⁰','⁻¹','⁻²','⁻³','⁻⁴','⁻⁵'][round(-log(datum.value)/LN10)] : ''"}}
      },
      "layer": [
        {"data": {"name": "curves"}, "transform": [{"filter": "datum.panel === 'KHT leg'"}], "mark": {"type": "line", "color": "black", "strokeWidth": 1.5, "interpolate": "monotone"}, "encoding": {"detail": {"field": "group", "type": "nominal"}}},
        {"data": {"name": "points"}, "transform": [{"filter": "datum.panel === 'KHT leg'"}], "mark": {"type": "point", "filled": true, "opacity": 1, "stroke": "black", "strokeWidth": 1.2}, "encoding": {"shape": {"field": "group", "type": "nominal", "scale": {"domain": ["PBS", "BW12C", "Anoxia"], "range": ["circle", "circle", "triangle-up"]}, "legend": null}, "fill": {"field": "group", "type": "nominal", "scale": {"domain": ["PBS", "BW12C", "Anoxia"], "range": ["black", "white", "black"]}, "legend": null}, "size": {"field": "group", "type": "nominal", "scale": {"domain": ["PBS", "BW12C", "Anoxia"], "range": [55, 55, 70]}, "legend": null}}}
      ]
    },
    {
      "width": 277, "height": 210,
      "title": {"text": "KHT flank", "dx": -16, "dy": 28},
      "view": {"stroke": "black", "strokeWidth": 1.2},
      "encoding": {
        "x": {"field": "dose", "type": "quantitative", "scale": {"domain": [12, 32], "nice": false, "zero": false}, "axis": {"title": "Dose (Gy)", "titleFontSize": 13, "values": [12, 14, 16, 18, 20, 22, 24, 26, 28, 30, 32], "labelExpr": "datum.value % 4 === 0 ? datum.label : ''"}},
        "y": {"field": "sf", "type": "quantitative", "scale": {"type": "log", "domain": [0.00001, 1], "nice": false}, "axis": {"title": null, "values": [0.00001, 0.00002, 0.00003, 0.00004, 0.00005, 0.00006, 0.00007, 0.00008, 0.00009, 0.0001, 0.0002, 0.0003, 0.0004, 0.0005, 0.0006, 0.0007, 0.0008, 0.0009, 0.001, 0.002, 0.003, 0.004, 0.005, 0.006, 0.007, 0.008, 0.009, 0.01, 0.02, 0.03, 0.04, 0.05, 0.06, 0.07, 0.08, 0.09, 0.1, 0.2, 0.3, 0.4, 0.5, 0.6, 0.7, 0.8, 0.9, 1], "labelExpr": "abs(log(datum.value)/LN10 - round(log(datum.value)/LN10)) < 0.01 ? '10 ' + ['⁰','⁻¹','⁻²','⁻³','⁻⁴','⁻⁵'][round(-log(datum.value)/LN10)] : ''"}}
      },
      "layer": [
        {"data": {"name": "curves"}, "transform": [{"filter": "datum.panel === 'KHT flank'"}], "mark": {"type": "line", "color": "black", "strokeWidth": 1.5}, "encoding": {"detail": {"field": "group", "type": "nominal"}, "strokeDash": {"field": "group", "type": "nominal", "scale": {"domain": ["PBS", "BW12C", "Anoxia"], "range": [[1, 0], [5, 3], [1, 0]]}, "legend": null}}},
        {"data": {"name": "points"}, "transform": [{"filter": "datum.panel === 'KHT flank'"}], "mark": {"type": "point", "filled": true, "opacity": 1, "stroke": "black", "strokeWidth": 1.2}, "encoding": {"shape": {"field": "group", "type": "nominal", "scale": {"domain": ["PBS", "BW12C", "Anoxia"], "range": ["circle", "circle", "triangle-up"]}, "legend": null}, "fill": {"field": "group", "type": "nominal", "scale": {"domain": ["PBS", "BW12C", "Anoxia"], "range": ["black", "white", "black"]}, "legend": null}, "size": {"field": "group", "type": "nominal", "scale": {"domain": ["PBS", "BW12C", "Anoxia"], "range": [55, 55, 70]}, "legend": null}}}
      ]
    },
    {
      "width": 66,
      "height": 340,
      "data": {"name": "pageText"},
      "encoding": {
        "x": {"field": "col", "type": "quantitative", "axis": null, "scale": {"domain": [0, 1, 2, 3], "range": [81, 135, 48, 417], "zero": false, "nice": false}},
        "y": {"field": "line", "type": "quantitative", "axis": null, "scale": {"domain": [0, 5, 10, 21, 30, 31, 40], "range": [23, 87, 117, 271, 124, 145, 271], "zero": false, "nice": false}}
      },
      "layer": [
        {"transform": [{"filter": "datum.k === 'figlabel'"}], "mark": {"type": "text", "align": "left", "baseline": "middle", "font": "Liberation Serif", "fontSize": 12, "fontWeight": "bold", "color": "black"}, "encoding": {"text": {"field": "text"}}},
        {"transform": [{"filter": "datum.k === 'caption'"}], "mark": {"type": "text", "align": "left", "baseline": "middle", "font": "Liberation Serif", "fontSize": 12.8, "color": "black"}, "encoding": {"text": {"field": "text"}}},
        {"transform": [{"filter": "datum.k === 'body'"}], "mark": {"type": "text", "align": "left", "baseline": "middle", "font": "Liberation Serif", "fontSize": 14.5, "color": "black"}, "encoding": {"text": {"field": "text"}}},
        {"transform": [{"filter": "datum.k === 'heading'"}], "mark": {"type": "text", "align": "left", "baseline": "middle", "font": "Liberation Serif", "fontSize": 13.7, "fontStyle": "italic", "color": "black"}, "encoding": {"text": {"field": "text"}}}
      ]
    },
    {"width": 277, "height": 340, "data": {"values": []}, "mark": "point"},
    {"width": 277, "height": 340, "data": {"values": []}, "mark": "point"}
  ]
}
